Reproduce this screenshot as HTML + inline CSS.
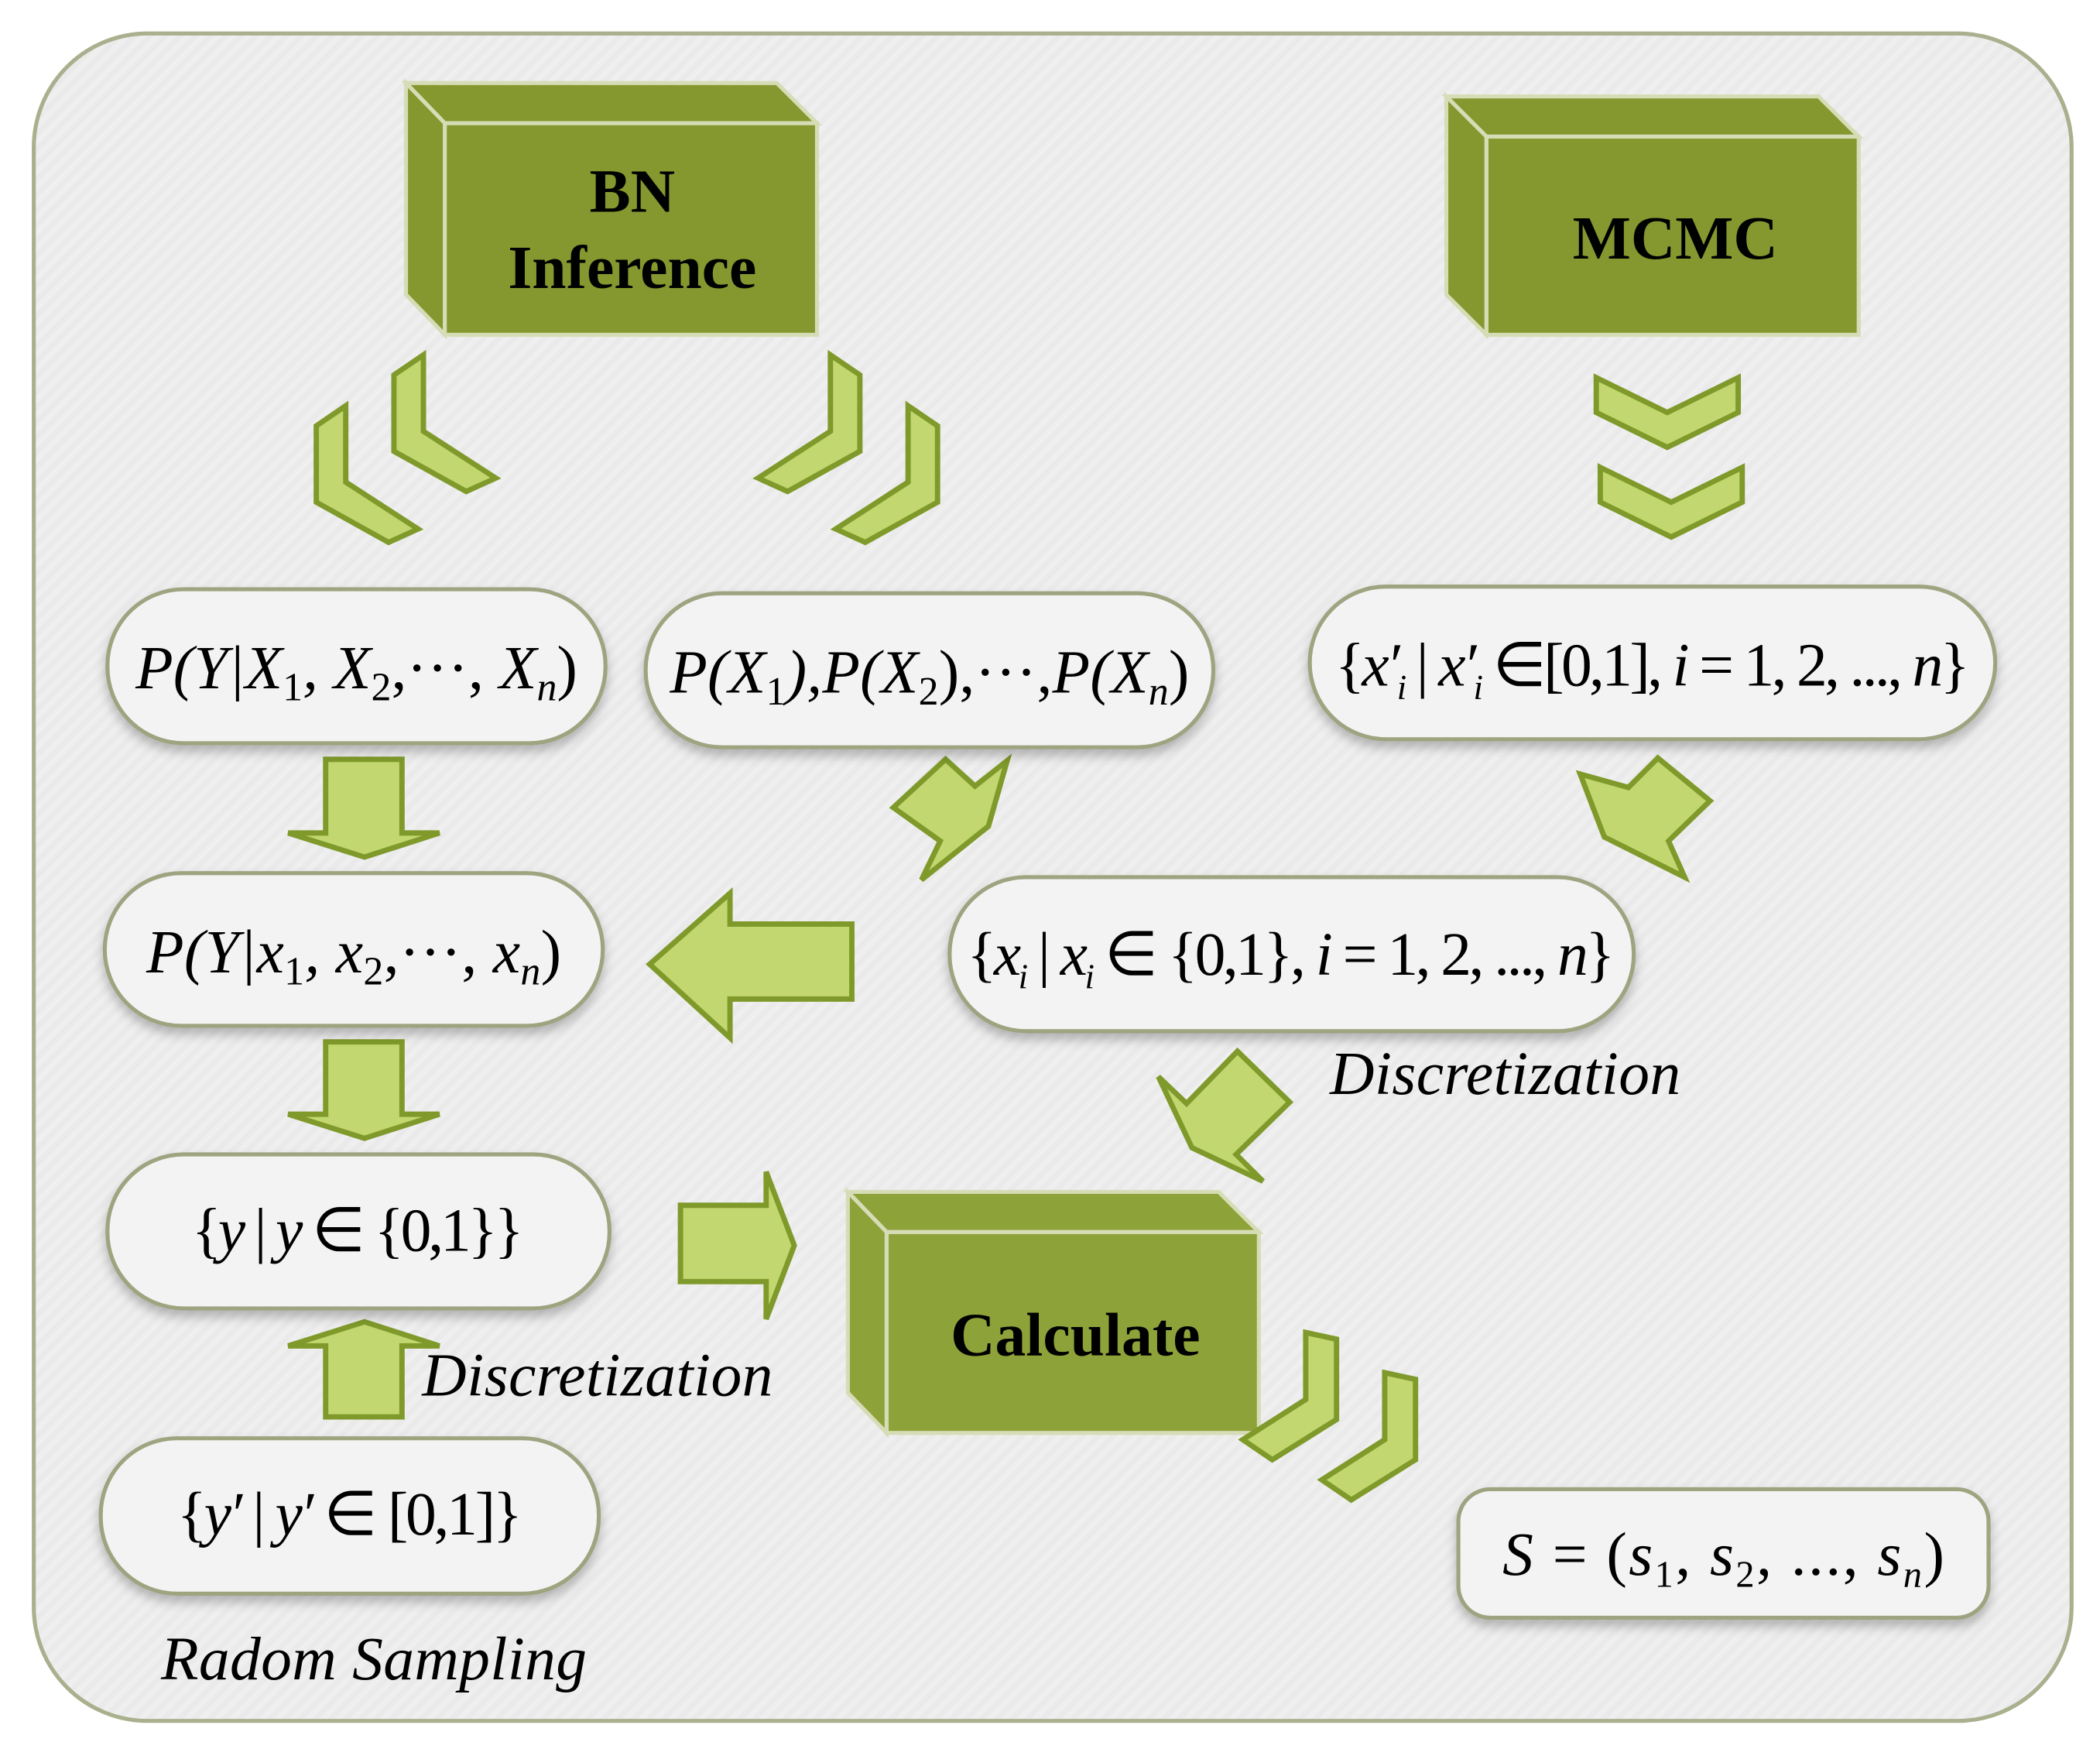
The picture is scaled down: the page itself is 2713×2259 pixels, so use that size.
<!DOCTYPE html>
<html><head><meta charset="utf-8"><style>
html,body{margin:0;padding:0;background:#fff;}
svg{display:block;}
text{font-family:"Liberation Serif","Times New Roman",serif;fill:#000;}
.m{font-style:italic;font-size:46px;}
</style></head><body>
<svg width="2713" height="2259" viewBox="0 0 1568 1306" xmlns="http://www.w3.org/2000/svg">
<defs>
<filter id="sh" x="-10%" y="-10%" width="120%" height="140%"><feDropShadow dx="0" dy="5" stdDeviation="4" flood-color="#000" flood-opacity="0.25"/></filter>
<pattern id="st" width="8" height="8" patternUnits="userSpaceOnUse" patternTransform="rotate(45)"><rect width="8" height="8" fill="#efefef"/><rect width="4" height="8" fill="#eaeaea"/></pattern>
</defs>
<rect x="25" y="25" width="1522" height="1260" rx="85" fill="url(#st)" stroke="#a9b08e" stroke-width="3"/>

<g stroke="#d6dcb6" stroke-width="3" fill="#84982f">
<polygon points="303,62 580,62 610,92 332,92"/>
<polygon points="303,62 332,92 332,250 303,220"/>
<rect x="332" y="92" width="278" height="158"/>
<polygon points="1080,72 1358,72 1388,102 1110,102"/>
<polygon points="1080,72 1110,102 1110,250 1080,220"/>
<rect x="1110" y="102" width="278" height="148"/>
<polygon points="633,890 910,890 940,920 662,920" fill="#8ea23a"/>
<polygon points="633,890 662,920 662,1070 633,1040" fill="#8ea23a"/>
<rect x="662" y="920" width="278" height="150" fill="#8ea23a"/>
</g>
<text x="472" y="158" font-size="46" font-weight="bold" text-anchor="middle">BN</text>
<text x="472" y="215" font-size="46" font-weight="bold" text-anchor="middle">Inference</text>
<text x="1251" y="193" font-size="46" font-weight="bold" text-anchor="middle">MCMC</text>
<text x="803" y="1012" font-size="46" font-weight="bold" text-anchor="middle">Calculate</text>

<g fill="#c3d770" stroke="#7f9a2a" stroke-width="4" stroke-linejoin="miter">
<polygon points="236,318 258,303 258,360 312,395 290,405 236,375"/>
<polygon points="294,280 316,265 316,322 370,357 348,367 294,337"/>
<polygon points="700,318 678,303 678,360 624,395 646,405 700,375"/>
<polygon points="642,280 620,265 620,322 566,357 588,367 642,337"/>
<polygon points="1192,282 1245,308 1298,282 1298,308 1245,334 1192,308"/>
<polygon points="1195,349 1248,375 1301,349 1301,375 1248,401 1195,375"/>
<polygon points="243,567 300,567 300,622 328,622 272,640 215,622 243,622"/>
<polygon points="243,778 300,778 300,832 328,832 272,850 215,832 243,832"/>
<polygon points="243,1058 300,1058 300,1005 328,1005 272,987 215,1005 243,1005"/>
<polygon points="636,690 636,746 545,746 545,775 485,720 545,667 545,690"/>
<polygon points="508,900 572,900 572,875 593,930 572,985 572,957 508,957"/>
<polygon points="865,804 886,824 924,785 963,823 923,862 943,882 890,857"/>
<polygon points="667,603 706,567 728,587 752,568 738,617 688,657 702,628"/>
<polygon points="1277,598 1238,566 1216,588 1180,578 1198,625 1258,655 1246,628"/>
<polygon points="928,1075 975,1045 975,995 998,1000 998,1060 950,1090"/>
<polygon points="987,1105 1034,1075 1034,1025 1057,1030 1057,1090 1009,1120"/>
</g>

<g fill="#f3f3f3" stroke="#9ea380" stroke-width="3" filter="url(#sh)">
<rect x="80" y="440" width="372" height="115" rx="57"/>
<rect x="482" y="443" width="424" height="115" rx="57"/>
<rect x="978" y="438" width="512" height="114" rx="57"/>
<rect x="78" y="652" width="372" height="114" rx="57"/>
<rect x="709" y="655" width="511" height="115" rx="57"/>
<rect x="80" y="862" width="375" height="115" rx="57"/>
<rect x="75" y="1074" width="372" height="116" rx="57"/>
<rect x="1089" y="1112" width="396" height="96" rx="24"/>
</g>

<text class="m" x="266" y="514" text-anchor="middle" textLength="330">P(Y|X<tspan font-size="30" dy="9" font-style="normal">1</tspan><tspan dy="-9">, X</tspan><tspan font-size="30" dy="9" font-style="normal">2</tspan><tspan dy="-9" font-style="normal">,···, </tspan><tspan>X</tspan><tspan font-size="30" dy="9">n</tspan><tspan dy="-9" font-style="normal">)</tspan></text>
<text class="m" x="694" y="517" text-anchor="middle" textLength="388">P(X<tspan font-size="30" dy="9" font-style="normal">1</tspan><tspan dy="-9">),P(X</tspan><tspan font-size="30" dy="9" font-style="normal">2</tspan><tspan dy="-9" font-style="normal">),···,</tspan><tspan>P(X</tspan><tspan font-size="30" dy="9">n</tspan><tspan dy="-9" font-style="normal">)</tspan></text>
<text x="1234" y="512" font-size="46" text-anchor="middle" textLength="474">{<tspan font-style="italic">x′</tspan><tspan font-size="26" font-style="italic" dy="10">i</tspan><tspan dy="-10"> | </tspan><tspan font-style="italic">x′</tspan><tspan font-size="26" font-style="italic" dy="10">i</tspan><tspan dy="-10"> ∈[0,1], </tspan><tspan font-style="italic">i</tspan> = 1, 2, ..., <tspan font-style="italic">n</tspan>}</text>
<text class="m" x="264" y="726" text-anchor="middle" textLength="310">P(Y|x<tspan font-size="30" dy="9" font-style="normal">1</tspan><tspan dy="-9">, x</tspan><tspan font-size="30" dy="9" font-style="normal">2</tspan><tspan dy="-9" font-style="normal">,···, </tspan><tspan>x</tspan><tspan font-size="30" dy="9">n</tspan><tspan dy="-9" font-style="normal">)</tspan></text>
<text x="964" y="728" font-size="46" text-anchor="middle" textLength="484">{<tspan font-style="italic">x</tspan><tspan font-size="26" font-style="italic" dy="10">i</tspan><tspan dy="-10"> | </tspan><tspan font-style="italic">x</tspan><tspan font-size="26" font-style="italic" dy="10">i</tspan><tspan dy="-10"> ∈ {0,1}, </tspan><tspan font-style="italic">i</tspan> = 1, 2, ..., <tspan font-style="italic">n</tspan>}</text>
<text x="267" y="934" font-size="46" text-anchor="middle" textLength="248">{<tspan font-style="italic">y</tspan> | <tspan font-style="italic">y</tspan> ∈ {0,1}}</text>
<text x="261" y="1146" font-size="46" text-anchor="middle" textLength="258">{<tspan font-style="italic">y′</tspan> | <tspan font-style="italic">y′</tspan> ∈ [0,1]}</text>
<text x="1287" y="1176" font-size="46" text-anchor="middle" textLength="330"><tspan font-style="italic">S</tspan> = (<tspan font-style="italic">s</tspan><tspan font-size="28" dy="9">1</tspan><tspan dy="-9">, </tspan><tspan font-style="italic">s</tspan><tspan font-size="28" dy="9">2</tspan><tspan dy="-9">, ..., </tspan><tspan font-style="italic">s</tspan><tspan font-size="28" font-style="italic" dy="9">n</tspan><tspan dy="-9">)</tspan></text>

<text class="m" x="993" y="817" textLength="262">Discretization</text>
<text class="m" x="315" y="1042" textLength="262">Discretization</text>
<text class="m" x="120" y="1254" textLength="318">Radom Sampling</text>
</svg>
</body></html>
